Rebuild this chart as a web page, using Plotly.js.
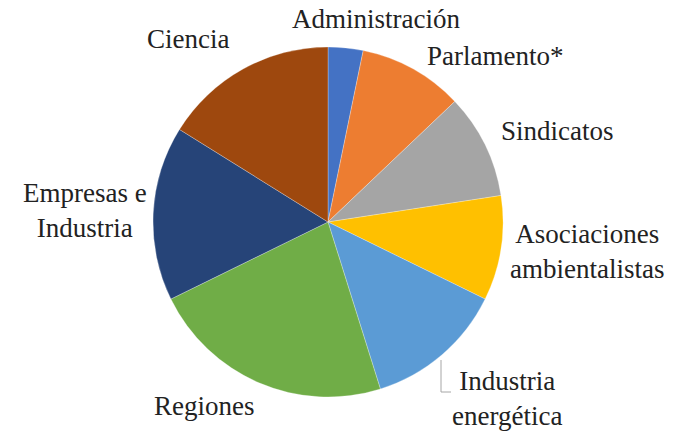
<!DOCTYPE html>
<html>
<head>
<meta charset="utf-8">
<script src="https://cdn.plot.ly/plotly-3.0.1.min.js"></script>
<style>
html,body{margin:0;padding:0;background:#fff;}
#chart{width:683px;height:434px;}
</style>
</head>
<body>
<div id="chart"></div>
<script>
// Data
const categories = ["Administración", "Parlamento*", "Sindicatos", "Asociaciones ambientalistas", "Industria energética", "Regiones", "Empresas e Industria", "Ciencia"];
const values = [1, 3, 3, 3, 4, 7, 5, 5];
const sliceColors = ["#4472C4", "#ED7D31", "#A5A5A5", "#FFC000", "#5B9BD5", "#70AD47", "#264478", "#9E480E"];
const labelTexts = ["Administración", "Parlamento*", "Sindicatos", "Asociaciones<br>ambientalistas", "Industria<br>energética", "Regiones", "Empresas e<br>Industria", "Ciencia"];

// Layout helpers (pixel -> paper)
const W = 683, H = 434;
const toPx = x => x / W;
const toPy = y => 1 - y / H;

// label centre positions in pixels
const labelPos = [
  [376, 19], [495, 56], [557, 131], [587, 251], [507, 398], [204, 406], [85, 211], [188, 39]
];

const cx = 328, cy = 222, rad = 175;

const pieTrace = {
  type: "pie",
  labels: categories,
  values: values,
  sort: false,
  direction: "clockwise",
  rotation: 0,
  textinfo: "none",
  hoverinfo: "label+value+percent",
  marker: { colors: sliceColors, line: { color: "rgba(255,255,255,0.45)", width: 0.6 } },
  domain: { x: [toPx(cx - rad), toPx(cx + rad)], y: [toPy(cy + rad), toPy(cy - rad)] },
  showlegend: false
};

const annos = labelTexts.map((t, i) => ({
  text: t,
  x: toPx(labelPos[i][0]), y: toPy(labelPos[i][1]),
  xref: "paper", yref: "paper",
  xanchor: "center", yanchor: "middle",
  align: "center",
  showarrow: false,
  font: { family: "Liberation Serif", size: 27, color: "#222" }
}));

const shp = [{
  type: "path",
  xref: "paper", yref: "paper",
  path: `M ${toPx(441)} ${toPy(360)} L ${toPx(441)} ${toPy(392)} L ${toPx(451)} ${toPy(392)}`,
  line: { color: "#A6A6A6", width: 1 }
}];

Plotly.newPlot("chart", [pieTrace], {
  width: W, height: H,
  margin: { l: 0, r: 0, t: 0, b: 0 },
  paper_bgcolor: "#fff",
  annotations: annos,
  shapes: shp
}, { displayModeBar: false });
</script>
</body>
</html>
